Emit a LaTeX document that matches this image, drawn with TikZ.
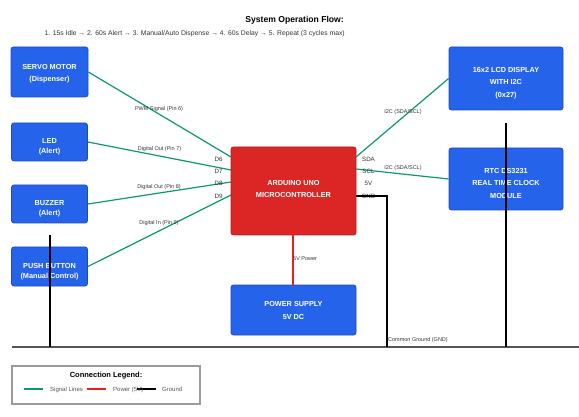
\documentclass[tikz,border=0pt]{standalone}
\usepackage{fontspec}
\setmainfont{Liberation Sans}
\definecolor{boxblue}{HTML}{2563EB}
\definecolor{boxblueD}{HTML}{1E4BC0}
\definecolor{ardred}{HTML}{DC2626}
\definecolor{ardredD}{HTML}{B01C1C}
\definecolor{sig}{HTML}{0A9A6A}
\definecolor{pwr}{HTML}{E82020}
\definecolor{gndgray}{HTML}{555555}
\definecolor{lbl}{HTML}{333333}
\definecolor{leggray}{HTML}{9A9AA0}
\begin{document}
\begin{tikzpicture}[x=1pt,y=-1pt,
  blk/.style={draw=boxblueD, fill=boxblue, rounded corners=2.5pt, line width=0.8pt, inner sep=0pt},
  ardbox/.style={draw=ardredD, fill=ardred, rounded corners=2.5pt, line width=0.8pt, inner sep=0pt},
  txt/.style={text=white, font=\fontsize{7.3}{12.5}\selectfont\bfseries, align=center, inner sep=0pt},
  stxt/.style={text=white, font=\fontsize{7.3}{10}\selectfont\bfseries, align=center, inner sep=0pt},
  elab/.style={font=\fontsize{5.5}{6}\selectfont, text=lbl, inner sep=0pt},
  pinl/.style={font=\fontsize{6.2}{7}\selectfont, text=lbl, inner sep=0pt},
  sigline/.style={draw=sig, line width=1.2pt},
  pwrline/.style={draw=pwr, line width=1.2pt},
  gndline/.style={draw=black, line width=1.4pt},
  busline/.style={draw=gndgray, line width=2pt},
  legtxt/.style={font=\fontsize{6}{7}\selectfont, text=gndgray, inner sep=0pt, anchor=west}
]
\useasboundingbox (0,0) rectangle (579,417);

% title
\node[anchor=east, inner sep=0pt, font=\fontsize{8.6}{10}\selectfont\bfseries] (title) at (344,20) {System Operation Flow:};
\node[anchor=east, inner sep=0pt, text=lbl, font=\fontsize{6.8}{8}\selectfont] (flow) at (345,33.5) {1. 15s Idle → 2. 60s Alert → 3. Manual/Auto Dispense → 4. 60s Delay → 5. Repeat (3 cycles max)};

% boxes
\node[blk, minimum width=77pt, minimum height=50pt] (servo) at (49.5,72) {};
\node[blk, minimum width=76pt, minimum height=38pt] (led) at (49.5,142) {};
\node[blk, minimum width=76pt, minimum height=38pt] (buzzer) at (49.5,204) {};
\node[blk, minimum width=76pt, minimum height=39pt] (push) at (49.5,266.5) {};
\node[ardbox, minimum width=125pt, minimum height=88pt] (ard) at (293.5,191) {};
\node[blk, minimum width=125pt, minimum height=50pt] (power) at (293.5,310) {};
\node[blk, minimum width=114pt, minimum height=63pt] (lcd) at (506,78.5) {};
\node[blk, minimum width=114pt, minimum height=62pt] (rtc) at (506,179) {};

% box texts
\node[txt] (servoT) at (49.5,73.5) {SERVO MOTOR\\(Dispenser)};
\node[stxt] (ledT) at (49.5,147) {LED\\(Alert)};
\node[stxt] (buzzerT) at (49.5,209) {BUZZER\\(Alert)};
\node[stxt] (pushT) at (49.5,272) {PUSH BUTTON\\(Manual Control)};
\node[txt] (ardT) at (293.5,189) {ARDUINO UNO\\MICROCONTROLLER};
\node[txt] (powerT) at (293.5,310.5) {POWER SUPPLY\\5V DC};
\node[txt] (lcdT) at (506,83) {16x2 LCD DISPLAY\\WITH I2C\\(0x27)};
\node[txt] (rtcT) at (506,183) {RTC DS3231\\REAL TIME CLOCK\\MODULE};

% connection points on the Arduino
\coordinate (d6) at (231,157);
\coordinate (d7) at (231,170);
\coordinate (d8) at (231,182);
\coordinate (d9) at (231,195);
\coordinate (sda) at (356,157);
\coordinate (scl) at (356,169);
\coordinate (gndp) at (356,196);
\coordinate (gndc) at (387,196);
\coordinate (gndb) at (387,347);

% signal lines
\draw[sigline] (servo.east) -- (d6);
\draw[sigline] (led.east) -- (d7);
\draw[sigline] (buzzer.east) -- (d8);
\draw[sigline] (push.east) -- (d9);
\draw[sigline] (sda) -- (lcd.west);
\draw[sigline] (scl) -- (rtc.west);

% power line
\draw[pwrline] ([xshift=-0.5pt]ard.south) -- ([xshift=-0.5pt]power.north);

% edge labels
\node[elab] (l6) at (159,109) {PWM Signal (Pin 6)};
\node[elab] (l7) at (159.5,149) {Digital Out (Pin 7)};
\node[elab] (l8) at (159,187) {Digital Out (Pin 8)};
\node[elab] (l9) at (159,223) {Digital In (Pin 9)};
\node[elab] (li1) at (403,112) {I2C (SDA/SCL)};
\node[elab] (li2) at (403,168) {I2C (SDA/SCL)};
\node[elab, anchor=west] (l5v) at (293,259) {5V Power};
\node[elab, anchor=west] (lgnd) at (388,340) {Common Ground (GND)};

% pin labels
\node[pinl] (pd6) at (218.5,159) {D6};
\node[pinl] (pd7) at (218.5,171) {D7};
\node[pinl] (pd8) at (218.5,183) {D8};
\node[pinl] (pd9) at (218.5,196) {D9};
\node[pinl] (psda) at (368.5,159) {SDA};
\node[pinl] (pscl) at (368.5,171) {SCL};
\node[pinl] (p5v) at (368.5,183) {5V};
\node[pinl] (pgnd) at (368.5,196) {GND};

% ground
\coordinate (busL) at (12,347);
\coordinate (busR) at (579,347);
\coordinate (g1t) at (50,235);
\coordinate (g1b) at (50,347);
\coordinate (g2t) at (506,123);
\coordinate (g2b) at (506,347);
\draw[busline] (busL) -- (busR);
\draw[gndline] (gndp) -- (gndc) -- (gndb);
\draw[gndline] (g1t) -- (g1b);
\draw[gndline] (g2t) -- (g2b);

% legend
\node[draw=leggray, line width=1.2pt, fill=white, minimum width=188pt, minimum height=38pt, inner sep=0pt] (legend) at (106,385) {};
\node[inner sep=0pt, font=\fontsize{7.5}{9}\selectfont\bfseries] (legT) at (106,376) {Connection Legend:};
\coordinate (lg1a) at (24,389);
\coordinate (lg1b) at (43,389);
\coordinate (lg2a) at (87,389);
\coordinate (lg2b) at (106,389);
\coordinate (lg3a) at (137,389);
\coordinate (lg3b) at (156,389);
\draw[sigline] (lg1a) -- (lg1b);
\draw[pwrline] (lg2a) -- (lg2b);
\draw[draw=black, line width=1.2pt] (lg3a) -- (lg3b);
\node[legtxt] (leg1) at (50,389.5) {Signal Lines};
\node[legtxt] (leg2) at (113,389.5) {Power (5V)};
\node[legtxt] (leg3) at (162,389.5) {Ground};
\end{tikzpicture}
\end{document}
